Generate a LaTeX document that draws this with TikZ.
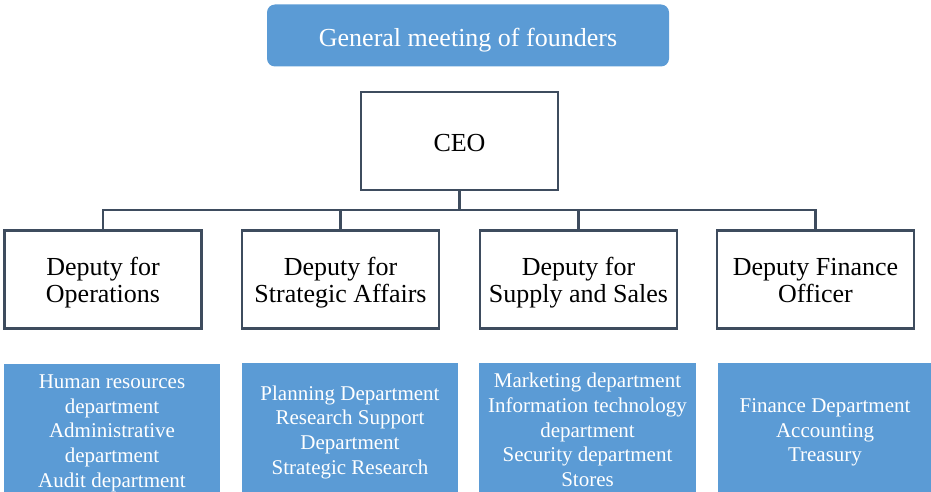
\documentclass[tikz,border=0pt]{standalone}
\usepackage{fontspec}
\setmainfont{Liberation Serif}
\definecolor{boxblue}{RGB}{91,155,213}
\definecolor{slate}{RGB}{62,76,94}
% struts on the first and last line fix where a text block sits in its box
\newcommand{\htop}{\rule{0pt}{24.4pt}}
\newcommand{\hbot}{\rule[-6pt]{0pt}{6pt}}
\newcommand{\utop}{\rule{0pt}{19.4pt}}
\newcommand{\ubot}{\rule[-5pt]{0pt}{5pt}}
\begin{document}
\begin{tikzpicture}[x=1pt,y=-1pt,
  headbox/.style={draw=slate, line width=2.6pt, fill=white, align=center,
    font=\fontsize{26}{27}\selectfont, inner sep=0pt,
    minimum width=197pt, minimum height=98pt},
  unitbox/.style={fill=boxblue, text=white, align=center, inner sep=0pt,
    minimum width=216pt, minimum height=134pt,
    font=\fontsize{21}{24.7}\selectfont},
  conn/.style={draw=slate, line width=2.6pt}]
\useasboundingbox (0,0) rectangle (931,492);
\clip (0,0) rectangle (931,492);

% founders' meeting
\node[fill=boxblue, rounded corners=8pt, text=white, minimum width=402pt,
  minimum height=62pt, inner sep=0pt, text height=22.2pt, text depth=0pt,
  font=\fontsize{26}{27}\selectfont]
  (gm) at (468,35.5) {General meeting of founders};

% chief executive
\node[headbox, text height=20.4pt, text depth=0pt] (ceo) at (459.5,141) {CEO};

% deputies
\node[headbox] (d1) at (103,279.5)
  {\htop Deputy for\\Operations\hbot};
\node[headbox] (d2) at (340.5,279.5)
  {\htop Deputy for\\Strategic Affairs\hbot};
\node[headbox] (d3) at (578.5,279.5)
  {\htop Deputy for\\Supply and Sales\hbot};
\node[headbox] (d4) at (815.5,279.5)
  {\htop Deputy Finance\\Officer\hbot};

% departments under each deputy
\node[unitbox] (u1) at (112,430.5)
  {\utop Human resources\\department\\Administrative\\department\\Audit department\ubot};
\node[unitbox] (u2) at (350,430)
  {\utop Planning Department\\Research Support\\Department\\Strategic Research\ubot};
\node[unitbox, minimum width=217pt] (u3) at (587.5,430)
  {\utop Marketing department\\Information technology\\department\\Security department\\Stores\ubot};
\node[unitbox, minimum width=214pt] (u4) at (825,430)
  {\utop Finance Department\\Accounting\\Treasury\ubot};

% reporting lines
\coordinate (bus) at (0,210);
\draw[conn] (ceo.south) -- (ceo.south |- bus);
\draw[conn] (d1.north) -- (d1.north |- bus) -- (d4.north |- bus) -- (d4.north);
\draw[conn] (d2.north) -- (d2.north |- bus);
\draw[conn] (d3.north) -- (d3.north |- bus);
\end{tikzpicture}
\end{document}
